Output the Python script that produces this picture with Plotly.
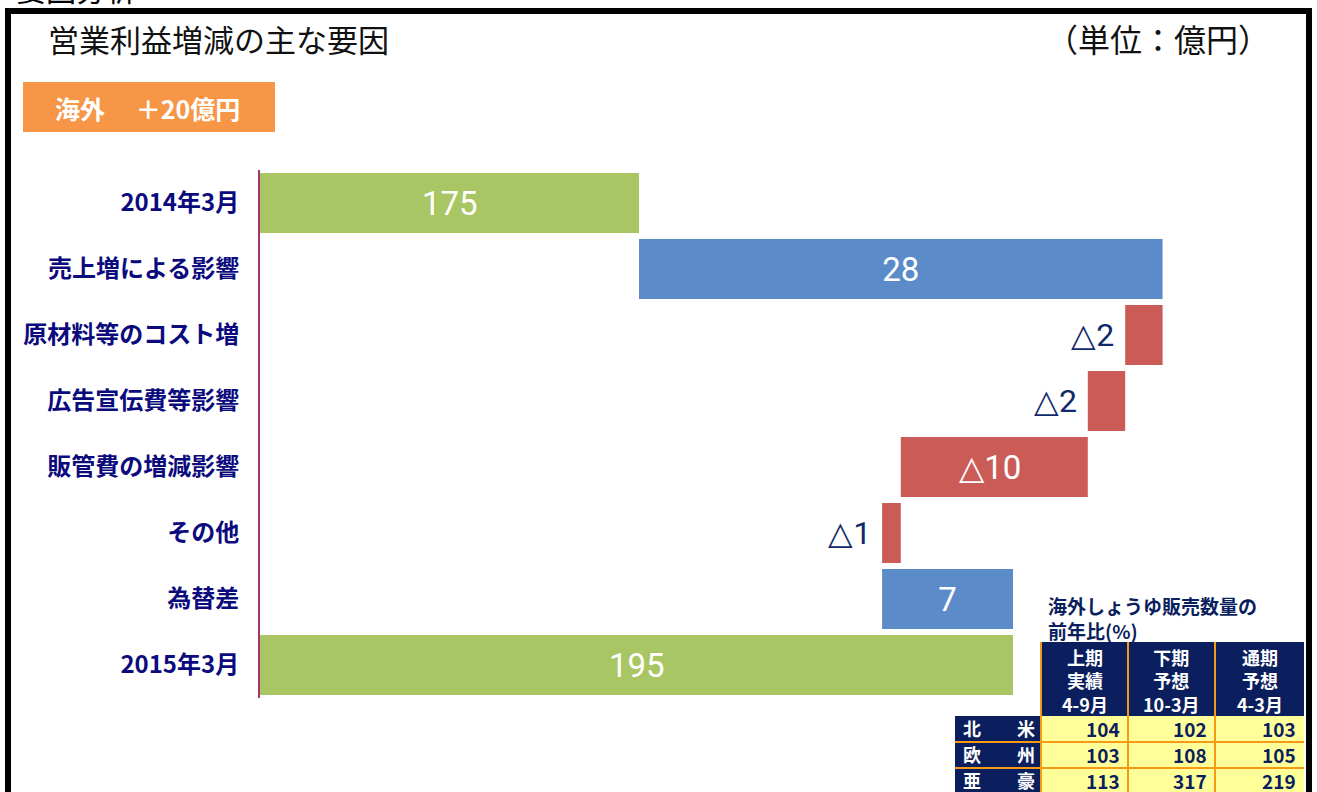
import plotly.graph_objects as go

# ---------------- data ----------------
categories = ["2014年3月", "売上増による影響", "原材料等のコスト増", "広告宣伝費等影響",
              "販管費の増減影響", "その他", "為替差", "2015年3月"]
values = [175, 28, -2, -2, -10, -1, 7, 195]
measures = ["total", "relative", "relative", "relative", "relative", "relative", "relative", "total"]

table_cols = ["上期<br>実績<br>4-9月", "下期<br>予想<br>10-3月", "通期<br>予想<br>4-3月"]
table_rows = ["北　　米", "欧　　州", "亜　　豪"]
table_vals = [[104, 102, 103],
              [103, 108, 105],
              [113, 317, 219]]

# ---------------- styling ----------------
W, H = 1317, 792
PL, PR, PT, PB = 260, 1200, 170, 698   # plot area in pixels
GREEN, BLUE, RED = "#A8C664", "#5B8CC9", "#CB5B57"
NAVY_LBL = "#0B0B7E"
NAVY_DELTA = "#10296A"
NAVY_TBL = "#0B1F5E"
ORANGE = "#F79646"
TBL_ORANGE = "#F59A12"
YELLOW = "#FFFF99"
JP = "Noto Sans CJK JP, sans-serif"
NUM = "Roboto, Liberation Sans Narrow, sans-serif"


def px(x):
    return (x - PL) / (PR - PL)


def py(y):
    return (PB - y) / (PB - PT)


x0 = 175 - (639 - PL) / 18.7
x1 = x0 + (PR - PL) / 18.7

# waterfall bases
bases, lengths, colors, texts, tpos = [], [], [], [], []
total_labels = []
running = 0
for cat, v, m in zip(categories, values, measures):
    if m == "total":
        bases.append(0)
        lengths.append(v)
        running = v
        colors.append(GREEN)
        texts.append("")
        total_labels.append((cat, v))
    else:
        bases.append(running)
        lengths.append(v)
        running += v
        colors.append(BLUE if v >= 0 else RED)
        texts.append(str(v) if v >= 0 else "△" + str(abs(v)) + "\u00a0")
    tpos.append("inside" if (m == "total" or abs(v) >= 5) else "outside")

fig = go.Figure()
fig.add_trace(go.Bar(
    y=categories, x=lengths, base=bases, orientation="h",
    marker=dict(color=colors, line=dict(width=0)),
    text=texts, textposition=tpos, insidetextanchor="middle",
    textangle=0, constraintext="none", cliponaxis=False,
    insidetextfont=dict(color="white", size=33, family=NUM),
    outsidetextfont=dict(color=NAVY_DELTA, size=32, family=NUM),
    hoverinfo="skip",
))

fig.update_layout(
    width=W, height=H,
    margin=dict(l=PL, r=W - PR, t=PT, b=H - PB, pad=0),
    paper_bgcolor="white", plot_bgcolor="white",
    showlegend=False, bargap=0.09,
    xaxis=dict(range=[x0, x1], visible=False, fixedrange=True),
    yaxis=dict(type="category", categoryorder="array", categoryarray=categories,
               autorange="reversed", showgrid=False, zeroline=False,
               showline=True, linecolor="#A2346E", linewidth=2,
               ticks="", ticklabelstandoff=14, fixedrange=True,
               tickfont=dict(family=JP, size=24, color=NAVY_LBL, weight="bold")),
    font=dict(family=JP),
)

shapes = []
ann = []

# labels of the total bars, centred on their visible part
for cat, v in total_labels:
    ann.append(dict(xref="x", yref="y", x=(x0 + v) / 2, y=cat, text=str(v), showarrow=False,
                    xanchor="center", yanchor="middle",
                    font=dict(color="white", size=33, family=NUM)))

# frame
shapes.append(dict(type="rect", xref="paper", yref="paper",
                   x0=px(8), x1=px(1309), y0=py(800), y1=py(11),
                   line=dict(color="black", width=6), fillcolor="rgba(0,0,0,0)", layer="above"))
# cut-off heading at very top
ann.append(dict(xref="paper", yref="paper", x=px(14), y=py(-12), xanchor="left", yanchor="middle",
                text="要因分析", showarrow=False, font=dict(family=JP, size=30, color="black")))
# title
ann.append(dict(xref="paper", yref="paper", x=px(46), y=py(38), xanchor="left", yanchor="middle",
                text="営業利益増減の主な要因", showarrow=False,
                font=dict(family=JP, size=31, color="#111111")))
ann.append(dict(xref="paper", yref="paper", x=px(1272), y=py(38), xanchor="right", yanchor="middle",
                text="（単位：億円）", showarrow=False,
                font=dict(family=JP, size=32, color="#111111")))
# orange box
shapes.append(dict(type="rect", xref="paper", yref="paper",
                   x0=px(23), x1=px(275), y0=py(132), y1=py(82),
                   line=dict(width=0), fillcolor=ORANGE, layer="above"))
ann.append(dict(xref="paper", yref="paper", x=px(53), y=py(108), xanchor="left", yanchor="middle",
                text="海外　 ＋20億円", showarrow=False,
                font=dict(family=JP, size=25, color="white", weight="bold")))

# ---------------- table ----------------
ann.append(dict(xref="paper", yref="paper", x=px(1046), y=py(618), xanchor="left", yanchor="middle",
                text="海外しょうゆ販売数量の<br>前年比(%)", showarrow=False, align="left",
                font=dict(family=JP, size=19, color=NAVY_TBL, weight="bold")))
col_x = [1041, 1128, 1215, 1304]
lab_x = [955, 1041]
hdr_y = [642, 716]
row_h = 26
# header
shapes.append(dict(type="rect", xref="paper", yref="paper",
                   x0=px(col_x[0]), x1=px(col_x[-1]), y0=py(hdr_y[1]), y1=py(hdr_y[0]),
                   line=dict(width=0), fillcolor=NAVY_TBL, layer="above"))
for j, c in enumerate(table_cols):
    ann.append(dict(xref="paper", yref="paper", x=px((col_x[j] + col_x[j + 1]) / 2), y=py(680),
                    xanchor="center", yanchor="middle", text=c, showarrow=False,
                    font=dict(family=JP, size=18, color="white", weight="bold")))
for i, r in enumerate(table_rows):
    ya, yb = hdr_y[1] + i * row_h, hdr_y[1] + (i + 1) * row_h
    yc = (ya + yb) / 2 - 1
    shapes.append(dict(type="rect", xref="paper", yref="paper",
                       x0=px(lab_x[0]), x1=px(lab_x[1]), y0=py(yb), y1=py(ya),
                       line=dict(width=0), fillcolor=NAVY_TBL, layer="above"))
    shapes.append(dict(type="rect", xref="paper", yref="paper",
                       x0=px(col_x[0]), x1=px(col_x[-1]), y0=py(yb), y1=py(ya),
                       line=dict(width=0), fillcolor=YELLOW, layer="above"))
    ann.append(dict(xref="paper", yref="paper", x=px(961), y=py(yc),
                    xanchor="left", yanchor="middle", text=r, showarrow=False,
                    font=dict(family=JP, size=18, color="white", weight="bold")))
    for j, v in enumerate(table_vals[i]):
        ann.append(dict(xref="paper", yref="paper", x=px(col_x[j + 1] - 6), y=py(yc),
                        xanchor="right", yanchor="middle", text=str(v), showarrow=False,
                        font=dict(family=JP, size=19, color=NAVY_TBL, weight="bold")))
# orange grid lines
for i in range(1, len(table_rows)):
    yy = hdr_y[1] + i * row_h
    shapes.append(dict(type="line", xref="paper", yref="paper",
                       x0=px(lab_x[0]), x1=px(col_x[-1]), y0=py(yy), y1=py(yy),
                       line=dict(color=TBL_ORANGE, width=2), layer="above"))
for xx in col_x[:-1]:
    shapes.append(dict(type="line", xref="paper", yref="paper",
                       x0=px(xx), x1=px(xx), y0=py(hdr_y[0]), y1=py(800),
                       line=dict(color=TBL_ORANGE, width=2), layer="above"))

fig.update_layout(shapes=shapes, annotations=ann)

fig.write_html("out.html", config={"displayModeBar": False},
               post_script="document.body.style.margin='0';")
